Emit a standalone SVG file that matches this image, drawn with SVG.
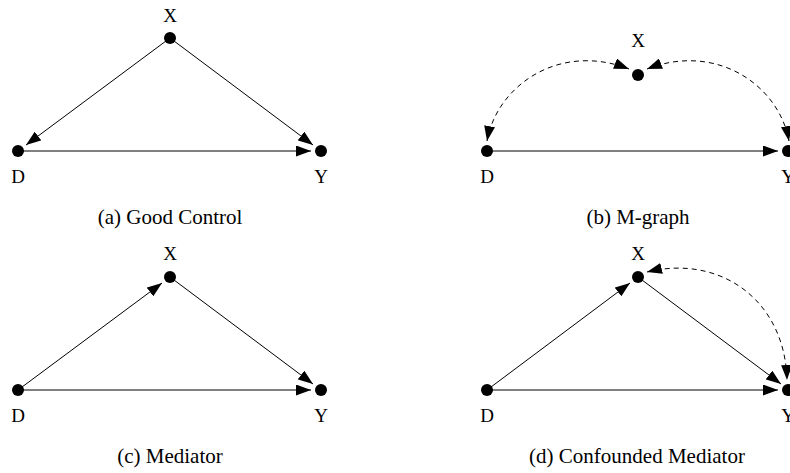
<svg xmlns="http://www.w3.org/2000/svg" width="790" height="473" viewBox="0 0 790 473">
<style>
.node{fill:#000}
.lbl{font-family:"Liberation Serif","DejaVu Serif",serif;font-size:19px;fill:#000;text-anchor:middle}
.cap{font-family:"Liberation Serif","DejaVu Serif",serif;font-size:21px;fill:#000;text-anchor:middle}
.e{stroke:#000;stroke-width:1;fill:none;marker-end:url(#ah)}
.d{stroke:#000;stroke-width:1;fill:none;stroke-dasharray:5 4;marker-end:url(#ah);marker-start:url(#ahs)}
</style>
<defs>
<marker id="ah" markerUnits="userSpaceOnUse" markerWidth="16" markerHeight="11" refX="15" refY="5.5" orient="auto" viewBox="0 0 16 11">
<path d="M0,0 L15,5.5 L0,11 z" fill="#000"/>
</marker>
<marker id="ahs" markerUnits="userSpaceOnUse" markerWidth="16" markerHeight="11" refX="15" refY="5.5" orient="auto-start-reverse" viewBox="0 0 16 11">
<path d="M0,0 L15,5.5 L0,11 z" fill="#000"/>
</marker>
</defs>
<g id="connectors">
<line class="e" x1="170" y1="38" x2="26" y2="145"/>
<line class="e" x1="170" y1="38" x2="313" y2="145"/>
<line class="e" x1="18" y1="151" x2="311" y2="151"/>
<path class="d" d="M487,141 C497,85 560,42 629,69"/>
<path class="d" d="M647,69 C716,42 779,85 789,141"/>
<line class="e" x1="487" y1="151" x2="778" y2="151"/>
<line class="e" x1="18" y1="390" x2="162" y2="283"/>
<line class="e" x1="170" y1="277" x2="313" y2="384"/>
<line class="e" x1="18" y1="390" x2="311" y2="390"/>
<line class="e" x1="487" y1="390" x2="630" y2="283"/>
<line class="e" x1="638" y1="277" x2="781" y2="384"/>
<line class="e" x1="487" y1="390" x2="778" y2="390"/>
<path class="d" d="M647,272 C720,254 785,300 787,380"/>
</g>
<g id="a">
<g id="a-X"><circle class="node" cx="170" cy="38" r="6"/><text class="lbl" x="170" y="22">X</text></g>
<g id="a-D"><circle class="node" cx="18" cy="151" r="6"/><text class="lbl" x="18" y="183">D</text></g>
<g id="a-Y"><circle class="node" cx="321" cy="151" r="6"/><text class="lbl" x="321" y="183">Y</text></g>
<text class="cap" x="170" y="224">(a) Good Control</text>
</g>
<g id="b">
<g id="b-X"><circle class="node" cx="638" cy="75" r="6"/><text class="lbl" x="638" y="47">X</text></g>
<g id="b-D"><circle class="node" cx="487" cy="151" r="6"/><text class="lbl" x="487" y="183">D</text></g>
<g id="b-Y"><circle class="node" cx="788" cy="151" r="6"/><text class="lbl" x="788" y="183">Y</text></g>
<text class="cap" x="638" y="224">(b) M-graph</text>
</g>
<g id="c">
<g id="c-X"><circle class="node" cx="170" cy="277" r="6"/><text class="lbl" x="170" y="260">X</text></g>
<g id="c-D"><circle class="node" cx="18" cy="390" r="6"/><text class="lbl" x="18" y="422">D</text></g>
<g id="c-Y"><circle class="node" cx="321" cy="390" r="6"/><text class="lbl" x="321" y="422">Y</text></g>
<text class="cap" x="170" y="463">(c) Mediator</text>
</g>
<g id="d">
<g id="d-X"><circle class="node" cx="638" cy="277" r="6"/><text class="lbl" x="638" y="260">X</text></g>
<g id="d-D"><circle class="node" cx="487" cy="390" r="6"/><text class="lbl" x="487" y="422">D</text></g>
<g id="d-Y"><circle class="node" cx="788" cy="390" r="6"/><text class="lbl" x="788" y="422">Y</text></g>
<text class="cap" x="637" y="463">(d) Confounded Mediator</text>
</g>
</svg>
